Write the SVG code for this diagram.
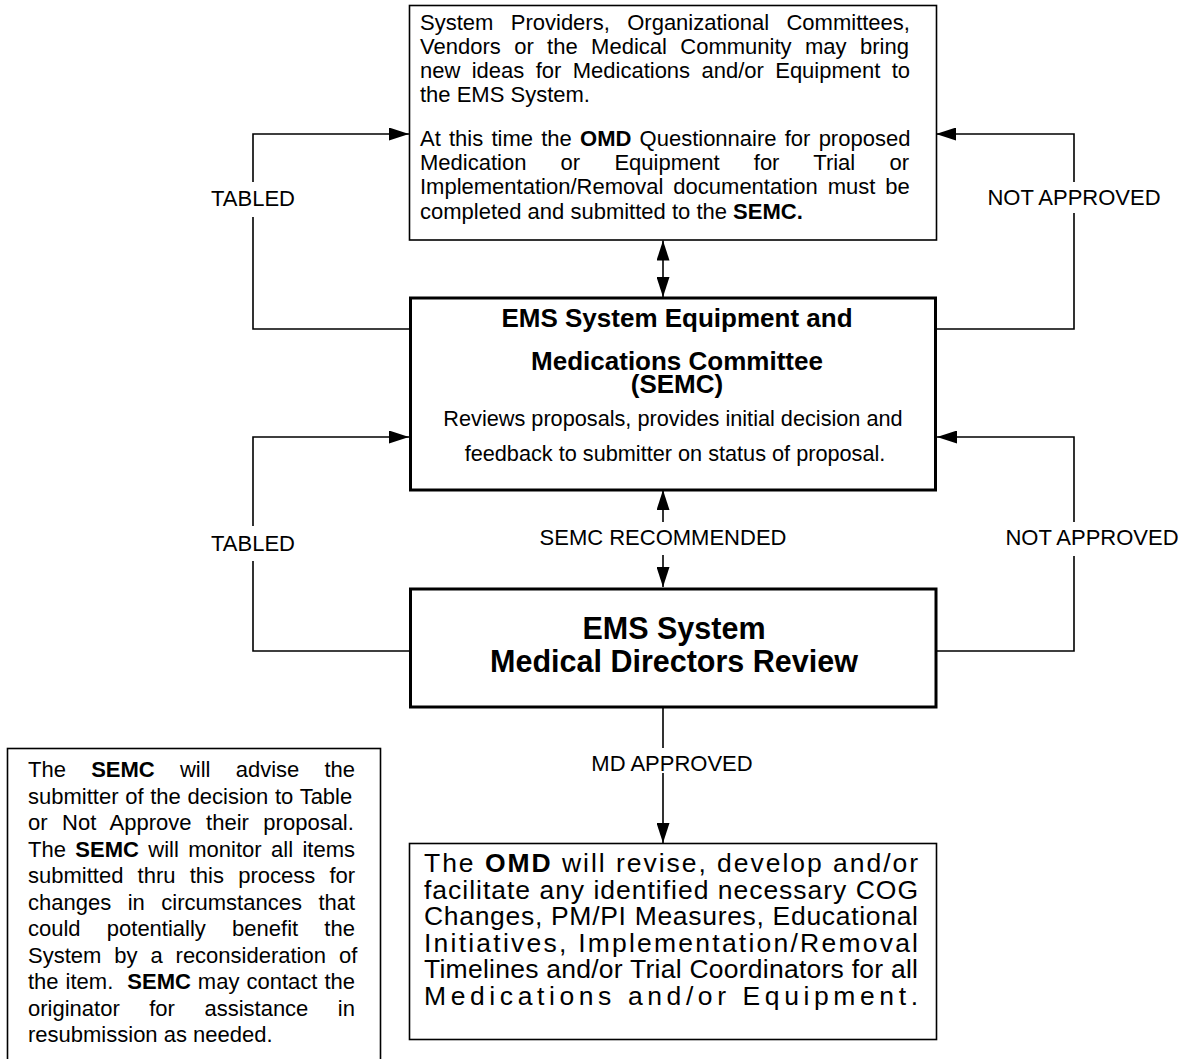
<svg xmlns="http://www.w3.org/2000/svg" width="1183" height="1059" viewBox="0 0 1183 1059">
<style>
.box{fill:#fff;stroke:#000;stroke-width:1.6}
.boxb{fill:#fff;stroke:#000;stroke-width:3}
.t{font-family:"Liberation Sans",Arial,sans-serif;font-size:22px;fill:#000}
.b{font-weight:bold}
.c{text-anchor:middle}
.omd{font-family:"Liberation Sans",Arial,sans-serif;font-size:26.5px;fill:#000}
.conn{fill:none;stroke:#000;stroke-width:1.6}
</style>
<defs>
<marker id="ah" markerUnits="userSpaceOnUse" markerWidth="20" markerHeight="13" refX="20" refY="6.5" orient="auto-start-reverse" viewBox="0 0 20 13"><path d="M0,0 L20,6.5 L0,13 z" fill="#000"/></marker>
</defs>
<rect width="1183" height="1059" fill="#fff"/>

<g id="connectors">
<path class="conn" d="M663,240.5 V297" marker-start="url(#ah)" marker-end="url(#ah)"/>
<path class="conn" d="M663,522 V490" marker-end="url(#ah)"/>
<path class="conn" d="M663,555 V587" marker-end="url(#ah)"/>
<path class="conn" d="M663,707 V748 M663,773 V843" marker-end="url(#ah)"/>
<path class="conn" d="M409,329 H253 V217 M253,182 V134 H409" marker-end="url(#ah)"/>
<path class="conn" d="M936,329 H1074 V213 M1074,182 V134 H936" marker-end="url(#ah)"/>
<path class="conn" d="M409,651 H253 V561 M253,526 V437 H409" marker-end="url(#ah)"/>
<path class="conn" d="M937,651 H1074 V556 M1074,522 V437 H937" marker-end="url(#ah)"/>
<text class="t c" x="253" y="206">TABLED</text>
<text class="t c" x="1074" y="205">NOT APPROVED</text>
<text class="t c" x="253" y="551">TABLED</text>
<text class="t c" x="1092" y="545">NOT APPROVED</text>
<text class="t c" x="663" y="545">SEMC RECOMMENDED</text>
<text class="t c" x="672" y="771">MD APPROVED</text>
</g>

<g id="proposal">
<rect class="box" x="409.5" y="5.5" width="527" height="234.5"/>
<text class="t" x="420" y="30" style="word-spacing:11.3px">System Providers, Organizational Committees,</text>
<text class="t" x="420" y="54" style="word-spacing:7.3px">Vendors or the Medical Community may bring</text>
<text class="t" x="420" y="78" style="word-spacing:5.25px">new ideas for Medications and/or Equipment to</text>
<text class="t" x="420" y="102">the EMS System.</text>
<text class="t" x="420" y="146" style="word-spacing:2.1px">At this time the <tspan class="b">OMD</tspan> Questionnaire for proposed</text>
<text class="t" x="420" y="170" style="word-spacing:28.1px">Medication or Equipment for Trial or</text>
<text class="t" x="420" y="194" style="word-spacing:3.9px">Implementation/Removal documentation must be</text>
<text class="t" x="420" y="219">completed and submitted to the <tspan class="b">SEMC.</tspan></text>
</g>

<g id="semc">
<rect class="boxb" x="410.5" y="298" width="525" height="192"/>
<text class="t b c" x="677" y="327" style="font-size:26px">EMS System Equipment and</text>
<text class="t b c" x="677" y="370" style="font-size:26px">Medications Committee</text>
<text class="t b c" x="677" y="393" style="font-size:26px">(SEMC)</text>
<text class="t c" x="673" y="426" style="font-size:21.7px">Reviews proposals, provides initial decision and</text>
<text class="t c" x="675" y="461" style="font-size:21.7px">feedback to submitter on status of proposal.</text>
</g>

<g id="review">
<rect class="boxb" x="410.5" y="589" width="525.5" height="118"/>
<text class="t b c" x="674" y="639" style="font-size:30.5px">EMS System</text>
<text class="t b c" x="674" y="672" style="font-size:30.5px">Medical Directors Review</text>
</g>

<g id="omd">
<rect class="box" x="409.5" y="843.5" width="527" height="196"/>
<text class="omd" x="424" y="872" textLength="494" lengthAdjust="spacing">The <tspan class="b">OMD</tspan> will revise, develop and/or</text>
<text class="omd" x="424" y="898.5" textLength="494" lengthAdjust="spacing">facilitate any identified necessary COG</text>
<text class="omd" x="424" y="925" textLength="494" lengthAdjust="spacing">Changes, PM/PI Measures, Educational</text>
<text class="omd" x="424" y="951.5" textLength="494" lengthAdjust="spacing">Initiatives, Implementation/Removal</text>
<text class="omd" x="424" y="978" textLength="494" lengthAdjust="spacing">Timelines and/or Trial Coordinators for all</text>
<text class="omd" x="424" y="1004.5" textLength="494" lengthAdjust="spacing">Medications and/or Equipment.</text>
</g>

<g id="note">
<rect class="box" x="7.5" y="748.5" width="373" height="330"/>
<text class="t" x="28" y="777" style="word-spacing:19.1px">The <tspan class="b">SEMC</tspan> will advise the</text>
<text class="t" x="28" y="803.5" style="word-spacing:0.6px">submitter of the decision to Table</text>
<text class="t" x="28" y="830" style="word-spacing:8.4px">or Not Approve their proposal.</text>
<text class="t" x="28" y="856.5" style="word-spacing:3.3px">The <tspan class="b">SEMC</tspan> will monitor all items</text>
<text class="t" x="28" y="883" style="word-spacing:8.1px">submitted thru this process for</text>
<text class="t" x="28" y="909.5" style="word-spacing:10.4px">changes in circumstances that</text>
<text class="t" x="28" y="936" style="word-spacing:20.1px">could potentially benefit the</text>
<text class="t" x="28" y="962.5" style="word-spacing:6.8px">System by a reconsideration of</text>
<text class="t" x="28" y="989" style="word-spacing:0.9px">the item.&#160; <tspan class="b">SEMC</tspan> may contact the</text>
<text class="t" x="28" y="1015.5" style="word-spacing:23.4px">originator for assistance in</text>
<text class="t" x="28" y="1042">resubmission as needed.</text>
</g>
</svg>
